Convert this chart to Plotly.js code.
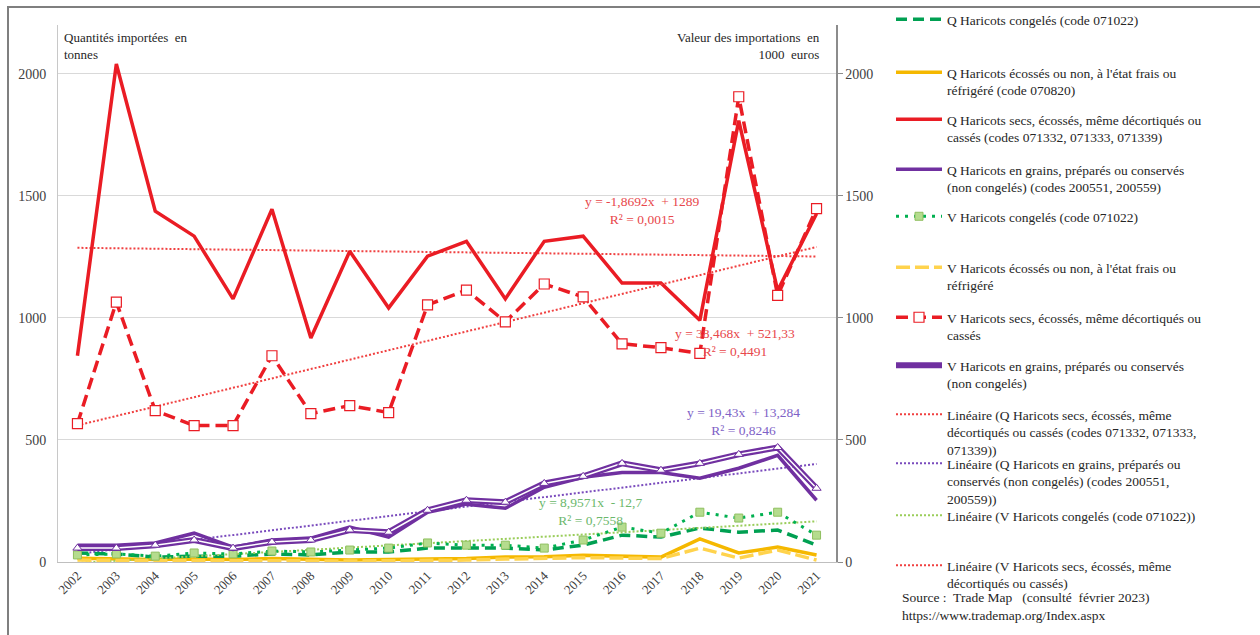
<!DOCTYPE html>
<html><head><meta charset="utf-8">
<script src="https://cdn.plot.ly/plotly-3.0.1.min.js"></script>
<style>
body{margin:0;background:#fff;}
#chart{width:1260px;height:635px;}
#frame{position:absolute;left:7px;top:6px;width:1260px;height:640px;border-top:2px solid #7f7f7f;border-left:2px solid #7f7f7f;pointer-events:none;}
</style>
</head><body>
<div id="chart"></div><div id="frame"></div>
<script>
// ---- data ----
const years = ['2002','2003','2004','2005','2006','2007','2008','2009','2010','2011','2012','2013','2014','2015','2016','2017','2018','2019','2020','2021'];
const qCongeles = [37,33,20,24,24,33,29,41,41,57,57,57,49,69,110,102,139,122,131,69];
const qFrais    = [15,12,10,12,10,14,12,8,10,12,14,20,22,28,24,20,95,37,61,29];
const qSecs     = [845,2040,1437,1335,1078,1445,918,1273,1041,1253,1314,1078,1314,1335,1143,1143,990,1808,1112,1427];
const qGrains   = [69,69,78,118,61,90,98,143,102,204,237,220,306,347,367,367,343,384,437,253];
const vCongeles = [29,33,24,37,33,45,41,49,57,78,69,69,57,90,143,118,204,180,204,110];
const vFrais    = [8,6,5,6,5,7,6,4,5,6,8,12,14,18,16,14,57,16,49,8];
const vSecs     = [567,1065,620,559,559,845,608,641,612,1053,1114,984,1139,1086,894,878,855,1906,1092,1448];
const vGrains   = [57,57,69,90,57,82,90,131,122,212,253,245,322,351,404,376,404,441,469,302];
// trendline equations shown on the chart: [slope, intercept]
const trendQSecs     = [-1.8692, 1289];
const trendQGrains   = [19.43, 13.284];
const trendVCongeles = [8.9571, -12.7];
const trendVSecs     = [38.468, 521.33];
const eqQSecs     = ['y = -1,8692x  + 1289', 'R² = 0,0015'];
const eqVSecs     = ['y = 38,468x  + 521,33', 'R² = 0,4491'];
const eqQGrains   = ['y = 19,43x  + 13,284', 'R² = 0,8246'];
const eqVCongeles = ['y = 8,9571x  - 12,7', 'R² = 0,7558'];
const yTicks = [0,500,1000,1500,2000];
const names = [
  'Q Haricots congelés (code 071022)',
  "Q Haricots écossés ou non, à l'état frais ou<br>réfrigéré (code 070820)",
  'Q Haricots secs, écossés, même décortiqués ou<br>cassés (codes 071332, 071333, 071339)',
  'Q Haricots en grains, préparés ou conservés<br>(non congelés) (codes 200551, 200559)',
  'V Haricots congelés (code 071022)',
  "V Haricots écossés ou non, à l'état frais ou<br>réfrigéré",
  'V Haricots secs, écossés, même décortiqués ou<br>cassés',
  'V Haricots en grains, préparés ou conservés<br>(non congelés)',
  'Linéaire (Q Haricots secs, écossés, même<br>décortiqués ou cassés (codes 071332, 071333,<br>071339))',
  'Linéaire (Q Haricots en grains, préparés ou<br>conservés (non congelés) (codes 200551,<br>200559))',
  'Linéaire (V Haricots congelés (code 071022))',
  'Linéaire (V Haricots secs, écossés, même<br>décortiqués ou cassés)'
];

// ---- layout constants ----
const W=1260,H=635, L=58, R=836, T=25, B=562;
const SERIF = 'Liberation Serif, Times New Roman, serif';
const trendY = c => years.map((_,i)=> c[1] + c[0]*(i+1));
const lg = i => i===0 ? 'legend' : 'legend'+(i+1);

const RED='#ea1c24', PURPLE='#7030a0', GREEN_D='#00a052', GOLD='#f5b800', YEL='#ffd34d';

const traces = [
  // trendlines (behind)
  {x:years,y:trendY(trendQSecs),name:names[8],legend:lg(8),mode:'lines',line:{color:'#f04040',width:2,dash:'2px,2px'},yaxis:'y'},
  {x:years,y:trendY(trendQGrains),name:names[9],legend:lg(9),mode:'lines',line:{color:'#7a4bbd',width:2,dash:'2px,2px'},yaxis:'y'},
  {x:years,y:trendY(trendVCongeles),name:names[10],legend:lg(10),mode:'lines',line:{color:'#9acd5a',width:2,dash:'2px,2px'},yaxis:'y2'},
  {x:years,y:trendY(trendVSecs),name:names[11],legend:lg(11),mode:'lines',line:{color:'#f04040',width:2,dash:'2px,2px'},yaxis:'y2'},
  // series
  {x:years,y:qFrais,name:names[1],legend:lg(1),mode:'lines',line:{color:GOLD,width:3.5},yaxis:'y'},
  {x:years,y:vFrais,name:names[5],legend:lg(5),mode:'lines',line:{color:YEL,width:3.5,dash:'14px,5px'},yaxis:'y2'},
  {x:years,y:qCongeles,name:names[0],legend:lg(0),mode:'lines',line:{color:GREEN_D,width:3.5,dash:'11px,6px'},yaxis:'y'},
  {x:years,y:vCongeles,name:names[4],legend:lg(4),mode:'lines+markers',line:{color:'#00b050',width:3,dash:'3px,6px'},
    marker:{symbol:'square',size:8,color:'#b5dc8e',line:{color:'#8fbf5f',width:1}},yaxis:'y2'},
  {x:years,y:qGrains,name:names[3],legend:lg(3),mode:'lines',line:{color:PURPLE,width:3.5},yaxis:'y'},
  {x:years,y:vGrains,name:names[7],legend:lg(7),mode:'lines',line:{color:PURPLE,width:6},yaxis:'y2'},
  {x:years,y:vGrains,showlegend:false,hoverinfo:'skip',mode:'lines+markers',line:{color:'#ffffff',width:1.5},
    marker:{symbol:'triangle-up',size:8,color:'#ffffff',line:{color:PURPLE,width:1}},yaxis:'y2'},
  {x:years,y:qSecs,name:names[2],legend:lg(2),mode:'lines',line:{color:RED,width:3.5},yaxis:'y'},
  {x:years,y:vSecs,name:names[6],legend:lg(6),mode:'lines+markers',line:{color:RED,width:3.5,dash:'12px,6px'},
    marker:{symbol:'square',size:10,color:'#ffffff',line:{color:RED,width:1.2}},yaxis:'y2'}
];

const tickFont = {family:SERIF,size:14,color:'#404040'};
const layout = {
  width:W,height:H,margin:{l:L,r:W-R,t:T,b:H-B,pad:0,autoexpand:false},
  paper_bgcolor:'#ffffff',plot_bgcolor:'#ffffff',
  showlegend:true,
  xaxis:{type:'category',categoryorder:'array',categoryarray:years,range:[-0.5,years.length-0.5],
    tickangle:-45,tickfont:{family:SERIF,size:13,color:'#404040'},showline:true,linecolor:'#bfbfbf',linewidth:1,
    ticks:'',showgrid:false,zeroline:false,fixedrange:true,automargin:false},
  yaxis:{range:[0,2200],tickvals:yTicks,ticktext:yTicks.map(String),tickfont:tickFont,showline:true,linecolor:'#c8c8c8',
    gridcolor:'#d9d9d9',gridwidth:1,zeroline:false,ticks:'',ticklabelstandoff:8,fixedrange:true,automargin:false},
  yaxis2:{range:[0,2200],tickvals:yTicks,ticktext:yTicks.map(String),tickfont:tickFont,overlaying:'y',side:'right',
    showline:true,linecolor:'#8c8c8c',linewidth:1.5,ticks:'outside',ticklen:5,tickcolor:'#8c8c8c',showgrid:false,zeroline:false,fixedrange:true,automargin:false},
  annotations:[],
  font:{family:SERIF,color:'#262626'}
};

// legends, one per entry so that the spacing matches the reference
const legendLineY = [20,73,120,170,217,268,318,366,415,464,516,566];
legendLineY.forEach((cy,i)=>{
  layout[lg(i)] = {x:(891-L)/(R-L),xanchor:'left',y:(B-(cy-16))/(B-T),yanchor:'top',valign:'top',
    bgcolor:'rgba(0,0,0,0)',borderwidth:0,itemwidth:46,font:{family:SERIF,size:13.5,color:'#262626'},
    itemclick:false,itemdoubleclick:false};
});

const px2x = px => (px-L)/(R-L), px2y = py => (B-py)/(B-T);
function ann(text,x,y,xanchor,color,size){
  layout.annotations.push({text,x:px2x(x),y:px2y(y),xref:'paper',yref:'paper',xanchor,yanchor:'middle',
    showarrow:false,align:xanchor==='right'?'right':(xanchor==='center'?'center':'left'),font:{family:SERIF,size:size||13.5,color}});
}
ann('Quantités importées  en<br>tonnes',62,46,'left','#262626',13);
ann('Valeur des importations  en<br>1000  euros',822,46,'right','#262626',13);
ann(eqQSecs.join('<br>'),642,211,'center','#e8474b');
ann(eqVSecs.join('<br>'),735,343,'center','#e8474b');
ann(eqQGrains.join('<br>'),743,421,'center','#7e62c6');
ann(eqVCongeles.join('<br>'),590,511,'center','#6cb86c');
ann('Source :  Trade Map   (consulté  février 2023)<br>https://www.trademap.org/Index.aspx',900,606,'left','#262626',13.5);

Plotly.newPlot('chart',traces,layout,{displayModeBar:false,staticPlot:true});
</script>
</body></html>
